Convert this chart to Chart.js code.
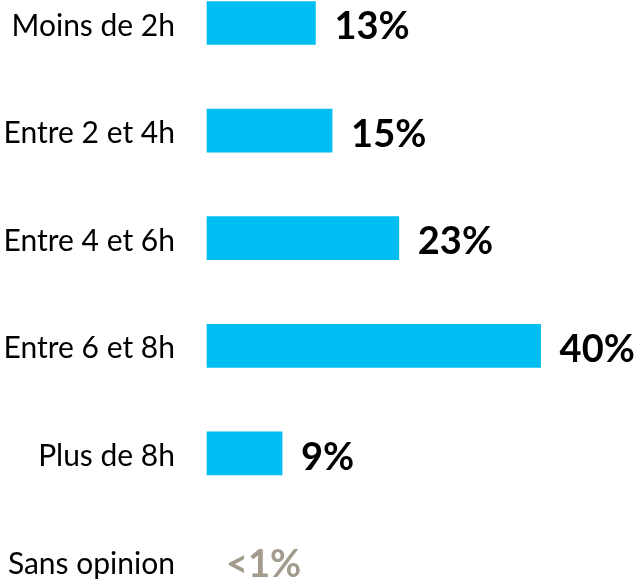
<!DOCTYPE html>
<html>
<head>
<meta charset="utf-8">
<script src="https://cdn.jsdelivr.net/npm/chart.js@4/dist/chart.umd.min.js"></script>
<style>
    html, body { margin: 0; padding: 0; background: #fff; }
    #wrap { width: 638px; height: 579px; position: relative; }
</style>
</head>
<body>
<div id="wrap"><canvas id="grafico"></canvas></div>
<script>
const categories = ['Moins de 2h', 'Entre 2 et 4h', 'Entre 4 et 6h', 'Entre 6 et 8h', 'Plus de 8h', 'Sans opinion'];
const values = [13, 15, 23, 40, 9, 0];
const valueLabels = ['13%', '15%', '23%', '40%', '9%', '<1%'];
const labelColors = ['#000', '#000', '#000', '#000', '#000', '#a39b8e'];

// étiquettes de valeur à droite des barres
const etiquettes = {
    id: 'etiquettes',
    afterDatasetsDraw(chart) {
        const ctx = chart.ctx;
        const meta = chart.getDatasetMeta(0);
        ctx.save();
        ctx.font = 'bold 38px Lato';
        ctx.textBaseline = 'middle';
        ctx.textAlign = 'left';
        meta.data.forEach((bar, i) => {
            ctx.fillStyle = labelColors[i];
            ctx.fillText(valueLabels[i], bar.x + 19, bar.y + 4);
        });
        ctx.restore();
    }
};

new Chart(document.getElementById('grafico').getContext('2d'), {
    type: 'bar',
    data: {
        labels: categories,
        datasets: [{
            data: values,
            backgroundColor: values.map(v => v > 0 ? '#00bef2' : 'rgba(0,0,0,0)'),
            barThickness: 43,
            clip: false
        }]
    },
    options: {
        indexAxis: 'y',
        responsive: true, maintainAspectRatio: false,
        animation: false,
        layout: { padding: { top: 23, bottom: 18, right: 14, left: 0 } },
        plugins: { legend: { display: false }, tooltip: { enabled: false } },
        scales: {
            x: { display: false, min: 0, max: 50 },
            y: {
                offset: false,
                grid: { display: false, drawTicks: false },
                border: { display: false },
                ticks: { color: '#000', font: { family: 'Lato', size: 30 }, padding: 32, labelOffset: 3 },
                afterFit: s => { s.width = 207; s.paddingTop = 0; s.paddingBottom = 0; }
            }
        }
    },
    plugins: [etiquettes]
});
</script>
</body>
</html>
